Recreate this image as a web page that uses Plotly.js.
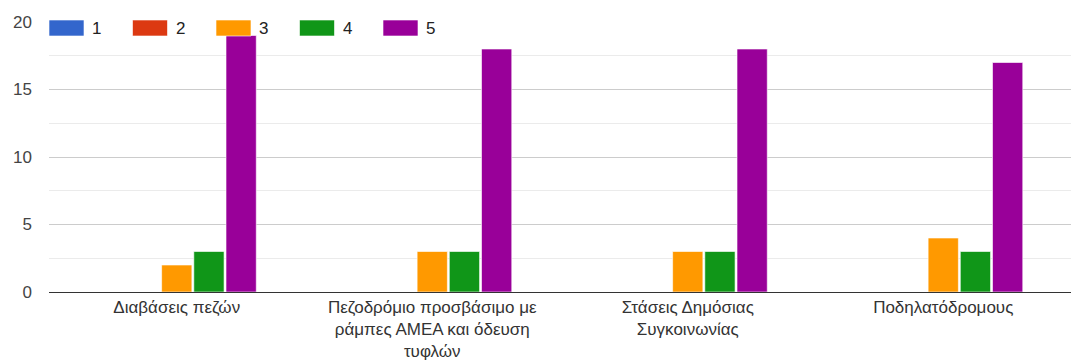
<!DOCTYPE html>
<html>
<head>
<meta charset="utf-8">
<script src="https://cdn.plot.ly/plotly-3.0.1.min.js"></script>
<style>html,body{margin:0;padding:0;background:#fff;}#chart{width:1071px;height:360px;}</style>
</head>
<body>
<div id="chart"></div>
<script>
var categories = ["Διαβάσεις πεζών", "Πεζοδρόμιο προσβάσιμο με<br>ράμπες ΑΜΕΑ και όδευση<br>τυφλών", "Στάσεις Δημόσιας<br>Συγκοινωνίας", "Ποδηλατόδρομους"];
var seriesNames = ["1", "2", "3", "4", "5"];
var s1 = [0, 0, 0, 0];
var s2 = [0, 0, 0, 0];
var s3 = [2, 3, 3, 4];
var s4 = [3, 3, 3, 3];
var s5 = [19, 18, 18, 17];
var colors = ["#3366cc", "#dc3912", "#ff9900", "#109618", "#990099"];
var yTicks = [0, 5, 10, 15, 20];

var FONT = "'Liberation Sans', Arial, sans-serif";
var allSeries = [s1, s2, s3, s4, s5];
var traces = allSeries.map(function (vals, i) {
  return {
    type: "bar",
    name: seriesNames[i],
    x: categories,
    y: vals,
    marker: { color: colors[i], line: { color: "rgba(255,255,255,0.6)", width: 1 } },
    hoverinfo: "none"
  };
});

var shapes = [], annotations = [];
var legX0 = 49, legStep = 83.5, W = 1071;
seriesNames.forEach(function (n, i) {
  var x0 = legX0 + i * legStep;
  shapes.push({ type: "rect", xref: "paper", yref: "paper", layer: "above",
    x0: (x0 - 49) / (W - 49), x1: (x0 + 35 - 49) / (W - 49),
    y0: (292 - 36) / 270, y1: (292 - 20) / 270,
    fillcolor: colors[i], line: { color: "rgba(255,255,255,0.6)", width: 1 } });
  annotations.push({ xref: "paper", yref: "paper", x: (x0 + 41 - 49) / (W - 49), y: (292 - 29) / 270,
    xanchor: "left", yanchor: "middle", text: n, showarrow: false,
    font: { family: FONT, size: 17, color: "#222" } });
});

var layout = {
  width: 1071, height: 360,
  margin: { l: 49, r: 0, t: 22, b: 68 },
  paper_bgcolor: "#fff", plot_bgcolor: "#fff",
  barmode: "group", bargap: 0.37, bargroupgap: 0.06,
  showlegend: false,
  font: { family: FONT, color: "#444" },
  xaxis: {
    tickfont: { size: 17, color: "#333" },
    showgrid: false, ticks: "", showline: false, zeroline: false,
    ticklabelstandoff: 3, fixedrange: true
  },
  yaxis: {
    range: [0, 20], tickvals: yTicks, ticktext: yTicks.map(String),
    tickfont: { size: 17, color: "#444" },
    showgrid: true, gridcolor: "#cccccc", gridwidth: 1,
    minor: { dtick: 2.5, showgrid: true, gridcolor: "#ebebeb", gridwidth: 1 },
    zeroline: true, zerolinecolor: "#333", zerolinewidth: 1,
    ticks: "", ticklabelstandoff: 16, showline: false, fixedrange: true
  },
  shapes: shapes,
  annotations: annotations
};

Plotly.newPlot("chart", traces, layout, { displayModeBar: false, staticPlot: true });
</script>
</body>
</html>
